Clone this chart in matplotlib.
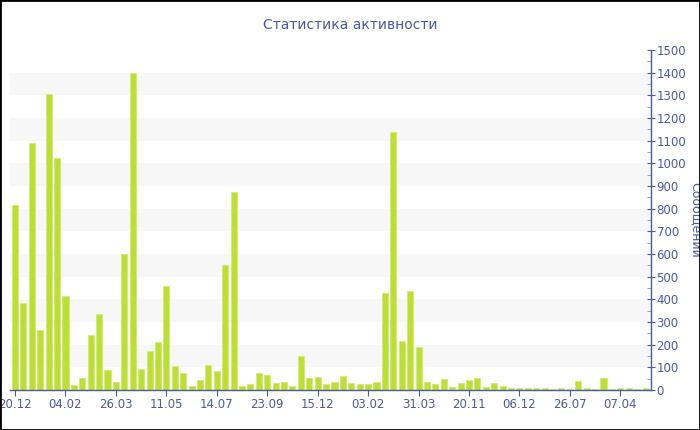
import matplotlib
matplotlib.use("Agg")
import matplotlib.pyplot as plt
from matplotlib.patches import Rectangle
from matplotlib.ticker import MultipleLocator

title = "Статистика активности"
ylabel = "Сообщений"
values = [815, 383, 1090, 265, 1305, 1022, 413, 22, 54, 244,
          335, 88, 37, 600, 1397, 94, 171, 210, 459, 106,
          77, 18, 44, 110, 84, 550, 874, 18, 25, 73,
          65, 29, 37, 19, 151, 51, 59, 25, 37, 62,
          32, 26, 28, 37, 427, 1138, 218, 435, 190, 35,
          28, 49, 13, 29, 43, 51, 15, 32, 18, 7,
          7, 8, 10, 7, 6, 7, 4, 40, 7, 6,
          53, 6, 8, 8, 6, 7]
tick_labels = ["20.12", "04.02", "26.03", "11.05", "14.07", "23.09", "15.12",
               "03.02", "31.03", "20.11", "06.12", "26.07", "07.04"]
tick_step = 6

blue = "#4a5aa0"
fig = plt.figure(figsize=(7, 4.3), dpi=100)
ax = fig.add_axes([10/700, 40/430, 641/700, 340/430])

x = list(range(len(values)))
for lo in range(100, 1500, 200):
    ax.axhspan(lo, lo + 100, color="#f7f7f7", lw=0, zorder=0)
ax.bar(x, values, width=0.72, color="#bbe033", edgecolor="#d2ec78", linewidth=0.6, zorder=2)

ax.set_xlim(-0.6, len(values) - 0.35)
ax.set_ylim(0, 1500)
ax.set_xticks(x[::tick_step])
ax.set_xticklabels(tick_labels)

ax.yaxis.tick_right()
ax.yaxis.set_label_position("right")
ax.yaxis.set_major_locator(MultipleLocator(100))
ax.yaxis.set_minor_locator(MultipleLocator(50))
for s in ["top", "left"]:
    ax.spines[s].set_visible(False)
for s in ["right", "bottom"]:
    ax.spines[s].set_color(blue)
    ax.spines[s].set_linewidth(1)
ax.tick_params(axis="y", which="major", direction="inout", length=6, color=blue,
               labelcolor=blue, labelsize=8.5, pad=1)
ax.tick_params(axis="y", which="minor", direction="in", length=3, color="#8890b8")
ax.tick_params(axis="x", which="major", direction="out", length=4, color=blue,
               labelcolor=blue, labelsize=8.5, pad=2)
ax.set_ylabel(ylabel, color=blue, fontsize=9, rotation=270, labelpad=12)
ax.yaxis.set_label_coords(1.08, 0.5)

fig.text(0.5, 1 - 25/430, title, ha="center", va="center", color=blue, fontsize=10)
fig.patches.append(Rectangle((0, 0), 1, 1, transform=fig.transFigure, fill=False,
                             edgecolor="black", linewidth=2, zorder=10))
fig.savefig("out.png", dpi=100)
